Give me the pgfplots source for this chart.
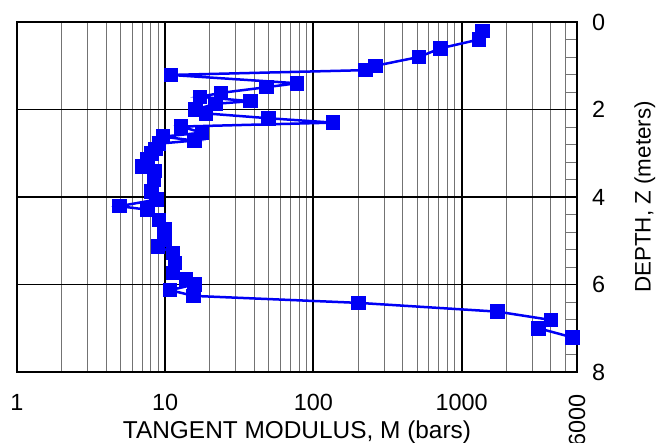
\documentclass[border=0pt]{standalone}
\usepackage{fontspec}
\setmainfont{Liberation Sans}
\usepackage{pgfplots}
\pgfplotsset{compat=1.18}
\begin{document}
\begin{tikzpicture}
\useasboundingbox (-17bp,-71bp) rectangle (653bp,372bp);
\begin{axis}[
  at={(0,0)}, anchor=south west,
  width=560bp, height=350bp, scale only axis,
  xmode=log, xmin=1, xmax=6000,
  ymin=0, ymax=8, y dir=reverse,
  xtick={1,10,100,1000},
  xticklabels={1,10,100,1000},
  minor xtick={2,3,4,5,6,7,8,9,20,30,40,50,60,70,80,90,200,300,400,500,600,700,800,900,2000,3000,4000,5000},
  extra x ticks={6000},
  extra x tick labels={\rotatebox{90}{6000}},
  extra x tick style={grid=none},
  ytick={0,2,4,6,8},
  yticklabels={0,2,4,6,8},
  minor y tick num=4,
  ytick pos=right,
  tick align=inside,
  xmajorgrids, xminorgrids, ymajorgrids,
  major x grid style={black, line width=2bp},
  minor x grid style={black!55, line width=1bp},
  major y grid style={black, line width=1.8bp},
  axis line style={black, line width=1.5bp},
  x tick style={draw=none},
  major y tick style={draw=none},
  minor y tick style={black!55, line width=1bp},
  minor tick length=12bp,
  tick label style={font=\fontsize{23.5}{26}\selectfont},
  xticklabel style={anchor=north, inner sep=0pt, yshift=-22bp},
  yticklabel style={anchor=west, inner sep=0pt, xshift=15bp},
  xlabel={TANGENT MODULUS, M (bars)},
  xlabel style={font=\fontsize{24.5}{26}\selectfont, at={(axis description cs:0.5,0)}, anchor=north, inner sep=0pt, yshift=-49bp},
  ylabel={DEPTH, Z (meters)},
  ylabel style={font=\fontsize{22.5}{26}\selectfont, at={(axis description cs:1.121,0.5)}, anchor=center, inner sep=0pt},
]
\addplot[color={rgb,255:red,0;green,0;blue,245}, line width=2.5bp, mark=square*, mark size=6bp, mark options={solid}] table {
x y
1380 0.21
1310 0.40
721 0.60
515 0.80
262 1.00
225 1.10
10.9 1.21
77.6 1.40
48.1 1.49
23.8 1.62
17.1 1.71
37.5 1.81
21.8 1.87
16.0 2.00
18.9 2.09
49.9 2.20
136 2.30
12.8 2.39
17.7 2.53
9.65 2.62
15.7 2.71
9.07 2.78
8.6 2.90
8.1 3.00
7.6 3.14
7.05 3.30
8.5 3.41
8.4 3.60
8.1 3.87
8.7 4.06
4.9 4.21
7.6 4.29
9.1 4.52
9.9 4.74
9.9 4.97
8.97 5.13
11.3 5.28
11.6 5.51
11.3 5.74
13.8 5.89
15.7 6.00
10.8 6.13
15.5 6.26
202 6.42
1742 6.62
3992 6.81
3298 7.00
5597 7.21
};
\end{axis}
\end{tikzpicture}
\end{document}
